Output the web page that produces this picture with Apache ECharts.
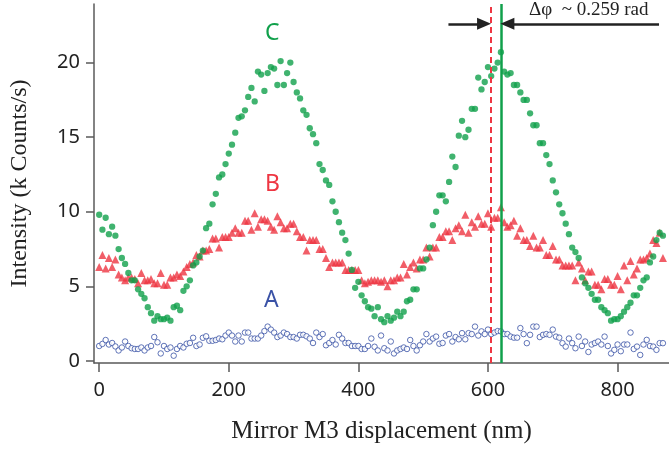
<!DOCTYPE html>
<html><head><meta charset="utf-8">
<script src="https://cdn.jsdelivr.net/npm/echarts@6/dist/echarts.min.js"></script>
<style>html,body{margin:0;padding:0;background:#fff}#c{width:669px;height:452px}</style>
</head><body><div id="c"></div>
<script>
// x positions (nm): X_START + i * X_STEP
const X_START = 0, X_STEP = 5;

// Series A (blue open circles)
const seriesA = [
  1.0, 1.14, 1.4, 1.1, 1.2, 0.97, 0.7, 0.9, 1.3, 1.0,
  0.85, 0.8, 0.8, 0.9, 0.7, 0.9, 1.0, 1.6, 1.25, 0.5,
  1.0, 0.8, 0.9, 0.35, 0.8, 1.0, 0.9, 1.15, 1.2, 1.55,
  1.0, 1.1, 1.55, 1.65, 1.35, 1.35, 1.4, 1.5, 1.45, 1.7,
  1.9, 1.7, 1.3, 1.7, 1.3, 1.9, 1.9, 1.5, 1.5, 1.5,
  1.7, 2.0, 2.3, 2.1, 1.9, 1.6, 1.7, 1.9, 1.8, 1.6,
  1.6, 1.5, 1.75, 1.75, 1.65, 1.5, 1.2, 1.9, 1.6, 1.8,
  1.05, 1.2, 1.4, 1.1, 1.75, 1.5, 1.2, 1.2, 1.0, 1.0,
  1.0, 0.8, 0.8, 1.0, 1.5, 0.95, 0.7, 1.7, 0.85, 0.7,
  1.3, 0.5, 0.7, 0.8, 0.9, 0.8, 1.4, 1.0, 0.7, 1.05,
  1.3, 1.8, 1.3, 1.5, 1.63, 1.15, 1.2, 1.7, 1.8, 1.3,
  1.6, 1.45, 1.86, 1.45, 1.86, 1.8, 2.3, 1.7, 1.98, 1.8,
  2.1, 1.8, 1.9, 2.0, 1.98, 1.8, 1.8, 1.63, 1.56, 1.56,
  2.2, 1.8, 1.19, 1.75, 2.3, 2.3, 1.6, 1.75, 1.8, 1.75,
  2.1, 1.63, 1.56, 1.19, 0.96, 1.5, 1.19, 0.85, 1.63, 1.0,
  1.3, 0.6, 1.1, 1.2, 1.3, 1.1, 1.63, 1.0, 0.5, 0.74,
  1.1, 0.65, 1.1, 1.1, 1.9, 0.8, 0.96, 0.4, 1.1, 1.41,
  1.0, 0.96, 0.74, 1.19, 1.19
];

// Series B (red triangles)
const seriesB = [
  6.3, 7.1, 6.2, 6.9, 6.3, 6.8, 5.8, 5.6, 5.4, 5.6,
  5.6, 5.5, 5.2, 5.9, 5.4, 5.4, 5.5, 5.2, 5.2, 5.9,
  5.1, 5.1, 5.6, 5.6, 5.8, 5.7, 6.0, 6.3, 6.5, 6.6,
  7.1, 7.0, 7.4, 7.4, 7.5, 8.2, 8.2, 7.6, 8.3, 8.3,
  8.3, 8.6, 8.9, 8.6, 8.6, 9.4, 9.4, 8.8, 9.9, 9.0,
  9.5, 9.5, 9.4, 9.0, 8.8, 9.7, 9.3, 8.9, 8.9, 9.2,
  9.2, 8.7, 8.3, 8.3, 7.4, 8.1, 8.1, 8.1, 7.5, 7.5,
  6.9, 6.3, 6.6, 6.6, 6.6, 6.6, 6.1, 6.1, 6.1, 6.1,
  6.1, 5.4, 5.2, 5.3, 5.4, 5.4, 5.4, 5.3, 5.4, 5.0,
  5.4, 5.4, 5.6, 5.6, 6.5, 5.8, 6.3, 6.6, 6.2, 6.8,
  6.8, 7.6, 7.0, 7.6, 7.6, 8.3, 8.3, 8.7, 8.7, 8.1,
  8.9, 9.1, 8.7, 9.8, 8.6, 9.3, 9.0, 9.7, 9.2, 9.2,
  9.9, 9.0, 9.6, 9.6, 10.3, 9.3, 9.0, 9.1, 9.4, 8.4,
  8.9, 8.1, 8.1, 7.7, 8.4, 7.6, 7.6, 8.1, 7.1, 7.1,
  7.7, 6.8, 6.8, 6.4, 6.4, 6.4, 6.4, 5.4, 6.6, 6.2,
  5.4, 6.0, 6.0, 5.1, 5.1, 4.8, 5.5, 5.5, 5.1, 5.1,
  5.7, 4.8, 6.4, 5.4, 6.7, 5.8, 6.2, 6.8, 6.8, 6.9,
  7.2, 8.1, 7.9, 8.6, 6.9
];

// Series C (green filled circles)
const seriesC = [
  9.8, 8.8, 9.6, 8.5, 9.0, 8.4, 7.5, 6.9, 6.5, 5.9,
  5.4, 5.4, 4.8, 4.5, 4.2, 3.6, 3.2, 2.7, 3.0, 2.8,
  2.8, 2.9, 2.7, 3.6, 3.7, 3.4, 4.7, 5.0, 5.4, 6.4,
  6.6, 7.0, 7.4, 8.9, 9.2, 10.5, 11.2, 12.3, 12.5, 13.2,
  13.9, 14.5, 15.3, 16.3, 16.4, 16.8, 17.7, 18.3, 17.4, 19.4,
  19.2, 18.1, 19.3, 19.7, 19.6, 18.5, 20.1, 18.5, 19.3, 20.0,
  18.7, 18.0, 17.6, 16.8, 16.5, 15.6, 15.2, 14.6, 13.2, 12.8,
  12.1, 11.8, 10.7, 10.0, 9.3, 8.6, 8.1, 7.2, 6.1, 4.9,
  5.3, 4.4, 4.0, 3.6, 3.5, 3.0, 3.6, 2.8, 2.6, 3.0,
  2.7, 2.9, 3.3, 3.0, 3.3, 4.0, 4.1, 4.8, 4.8, 6.2,
  6.2, 6.8, 7.6, 9.1, 10.0, 11.1, 11.1, 10.7, 12.0, 13.7,
  13.0, 15.1, 16.1, 15.0, 15.5, 16.9, 16.9, 19.0, 18.2, 18.7,
  19.7, 19.1, 19.6, 20.0, 20.7, 19.4, 19.2, 19.3, 18.5, 18.5,
  18.0, 17.5, 17.5, 16.6, 15.8, 15.8, 14.6, 14.6, 13.8, 13.2,
  12.1, 11.3, 10.5, 9.9, 9.2, 8.5, 7.6, 7.3, 6.9, 5.6,
  5.2, 4.9, 4.5, 4.1, 4.1, 3.6, 3.4, 3.2, 2.7, 2.8,
  2.8, 3.0, 3.3, 3.6, 3.9, 4.4, 4.4, 4.9, 5.4, 5.6,
  6.6, 7.0, 8.1, 8.6, 8.4
];

const xTicks = [0, 200, 400, 600, 800];
const yTicks = [0, 5, 10, 15, 20];
const refLineRed = 604;     // nm, dashed red
const refLineGreen = 620;   // nm, solid green
const arrowLevel = 22.6;    // y value of the double arrow
const arrowLeftStart = 539, arrowRightStart = 864;
const phaseText = 'Δφ  ~ 0.259 rad';
const seriesNames = ['A', 'B', 'C'];

const COL_A = '#3a52a6', COL_B = '#ee3642', COL_C = '#10a04b';
const AX = '#5a5a5a';

function pairs(arr) { return arr.map((v, i) => [X_START + i * X_STEP, v]); }

const chart = echarts.init(document.getElementById('c'), null, {renderer: 'canvas'});
const labelFont = 'Noto Sans';
const serif = 'Liberation Serif';

chart.setOption({
  animation: false,
  backgroundColor: '#fff',
  grid: {left: 90, right: 0, top: 4, bottom: 89, containLabel: false},
  xAxis: {
    type: 'value', min: -8, max: 879.4,
    splitLine: {show: false},
    axisLine: {show: true, onZero: false, lineStyle: {color: AX, width: 1.5}},
    axisTick: {show: true, length: 9, customValues: xTicks, lineStyle: {color: AX, width: 1.5}},
    axisLabel: {customValues: xTicks, margin: 17, fontSize: 20, color: '#222', fontFamily: labelFont},
    name: 'Mirror M3 displacement (nm)', nameLocation: 'middle', nameGap: 56,
    nameTextStyle: {fontFamily: serif, fontSize: 25, color: '#222'}
  },
  yAxis: {
    type: 'value', min: -0.14, max: 23.93,
    splitLine: {show: false},
    axisLine: {show: true, onZero: false, lineStyle: {color: AX, width: 1.5}},
    axisTick: {show: true, length: 8, customValues: yTicks, lineStyle: {color: AX, width: 1.5}},
    axisLabel: {customValues: yTicks, margin: 14, fontSize: 20, color: '#222', fontFamily: labelFont},
    name: 'Intensity (k Counts/s)', nameLocation: 'middle', nameGap: 62,
    nameTextStyle: {fontFamily: serif, fontSize: 24, color: '#222'}
  },
  series: [
    {
      name: 'A', type: 'scatter', data: pairs(seriesA), symbol: 'circle', symbolSize: 5.5,
      itemStyle: {color: '#fff', borderColor: COL_A, borderWidth: 1}
    },
    {
      name: 'B', type: 'scatter', data: pairs(seriesB), symbol: 'triangle', symbolSize: 8,
      itemStyle: {color: COL_B}
    },
    {
      name: 'C', type: 'scatter', data: pairs(seriesC), symbol: 'circle', symbolSize: 6.3,
      itemStyle: {color: COL_C},
      markLine: {
        silent: true, animation: false, symbol: ['none', 'none'],
        label: {show: false},
        data: [
          {xAxis: refLineRed, lineStyle: {color: COL_B, type: [6, 4], width: 2}},
          {xAxis: refLineGreen, lineStyle: {color: COL_C, type: 'solid', width: 2.5}},
          [
            {coord: [arrowLeftStart, arrowLevel], symbol: 'none', lineStyle: {color: '#222', width: 2.5, type: 'solid'}},
            {coord: [refLineRed - 10, arrowLevel], symbol: 'triangle', symbolSize: [12, 14]}
          ],
          [
            {coord: [arrowRightStart, arrowLevel], symbol: 'none', lineStyle: {color: '#222', width: 2.5, type: 'solid'}},
            {coord: [refLineGreen + 10, arrowLevel], symbol: 'triangle', symbolSize: [12, 14]}
          ]
        ]
      }
    }
  ],
  graphic: [
    {type: 'text', left: 529, top: 1, style: {text: phaseText, font: '19px "Liberation Serif"', fill: '#222'}},
    {type: 'text', left: 265, top: 22, style: {text: seriesNames[2], font: '23px "Noto Sans"', fill: COL_C}},
    {type: 'text', left: 265, top: 173, style: {text: seriesNames[1], font: '23px "Noto Sans"', fill: COL_B}},
    {type: 'text', left: 264, top: 289, style: {text: seriesNames[0], font: '23px "Noto Sans"', fill: COL_A}}
  ]
});
</script>
</body></html>
